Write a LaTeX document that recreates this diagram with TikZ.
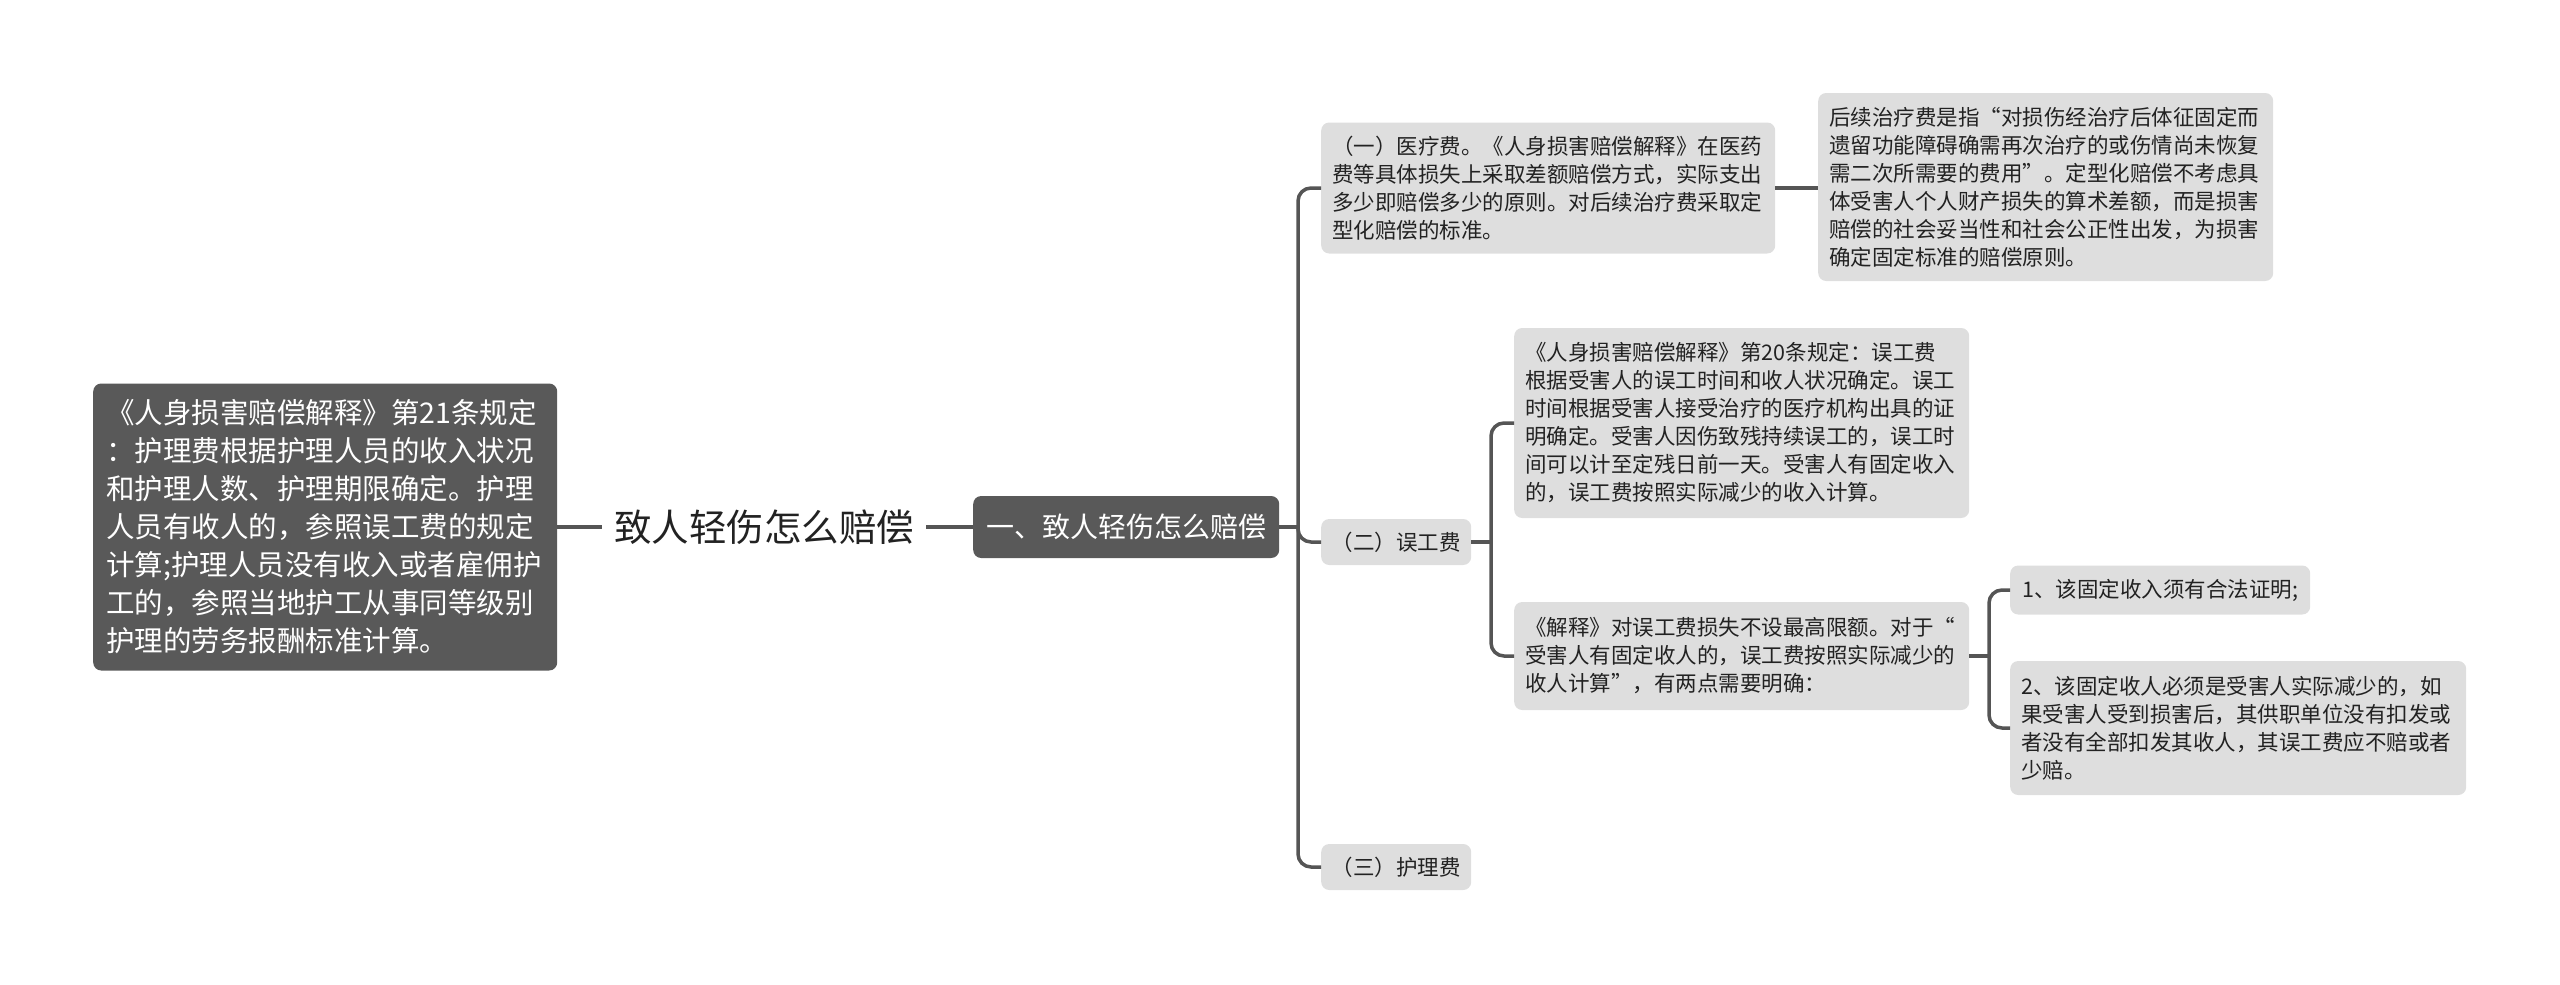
\documentclass[tikz,border=0pt]{standalone}
\usepackage{fontspec}
\newfontfamily\cjk{Noto Sans CJK SC}
\definecolor{dark}{RGB}{89,89,89}
\definecolor{lite}{RGB}{222,222,222}
\definecolor{ink}{RGB}{34,34,34}
\definecolor{wire}{RGB}{85,85,85}
\begin{document}
\begin{tikzpicture}[x=1pt,y=-1pt,
  darkbox/.style={fill=dark, text=white, rounded corners=8pt, inner ysep=0pt},
  litebox/.style={fill=lite, text=ink, rounded corners=8pt, anchor=west, align=left,
    inner xsep=11pt, inner ysep=0pt, font=\cjk\fontsize{21.5}{28}\selectfont},
  conn/.style={draw=wire, line width=3.5pt, rounded corners=13pt}
]
\useasboundingbox (0,0) rectangle (2560,985);

% left explanatory box
\node[darkbox, anchor=west, align=left, inner xsep=13pt, text width=438pt, minimum height=287pt,
  font=\cjk\fontsize{28.5}{38}\selectfont] (L) at (93,527)
{《人身损害赔偿解释》第21条规定\\
：护理费根据护理人员的收入状况\\
和护理人数、护理期限确定。护理\\
人员有收人的，参照误工费的规定\\
计算;护理人员没有收入或者雇佣护\\
工的，参照当地护工从事同等级别\\
护理的劳务报酬标准计算。};

% root
\node[text=ink, inner xsep=12pt, font=\cjk\fontsize{37.5}{44}\selectfont] (root) at (764,527) {致人轻伤怎么赔偿};

% first level
\node[darkbox, anchor=west, minimum width=306pt, minimum height=62pt, inner xsep=6pt,
  font=\cjk\fontsize{28}{34}\selectfont] (b1) at (973,527) {一、致人轻伤怎么赔偿};

% second level
\node[litebox, text width=432pt, minimum height=131pt] (g1) at (1321,188)
{（一）医疗费。《人身损害赔偿解释》在医药\\
费等具体损失上采取差额赔偿方式，实际支出\\
多少即赔偿多少的原则。对后续治疗费采取定\\
型化赔偿的标准。};

\node[litebox, align=center, minimum width=150pt, minimum height=46pt, inner xsep=4pt] (g2) at (1321,542) {（二）误工费};
\node[litebox, align=center, minimum width=150pt, minimum height=46pt, inner xsep=4pt] (g3) at (1321,867) {（三）护理费};

% third level
\node[litebox, text width=433pt, minimum height=188pt] (r1) at (1818,187)
{后续治疗费是指“对损伤经治疗后体征固定而\\
遗留功能障碍确需再次治疗的或伤情尚未恢复\\
需二次所需要的费用”。定型化赔偿不考虑具\\
体受害人个人财产损失的算术差额，而是损害\\
赔偿的社会妥当性和社会公正性出发，为损害\\
确定固定标准的赔偿原则。};

\node[litebox, text width=433pt, minimum height=190pt] (a1) at (1514,423)
{《人身损害赔偿解释》第20条规定：误工费\\
根据受害人的误工时间和收人状况确定。误工\\
时间根据受害人接受治疗的医疗机构出具的证\\
明确定。受害人因伤致残持续误工的，误工时\\
间可以计至定残日前一天。受害人有固定收入\\
的，误工费按照实际减少的收入计算。};

\node[litebox, text width=433pt, minimum height=108pt] (a2) at (1514,656)
{《解释》对误工费损失不设最高限额。对于“\\
受害人有固定收人的，误工费按照实际减少的\\
收人计算”，有两点需要明确：};

% fourth level
\node[litebox, align=center, minimum width=300pt, minimum height=49pt, inner xsep=6pt] (c1) at (2010,590)
{1、该固定收入须有合法证明;};

\node[litebox, text width=434pt, minimum height=134pt] (c2) at (2010,728)
{2、该固定收人必须是受害人实际减少的，如\\
果受害人受到损害后，其供职单位没有扣发或\\
者没有全部扣发其收人，其误工费应不赔或者\\
少赔。};

% connectors
\coordinate (t1) at (1298,527);
\coordinate (t2) at (1491,542);
\coordinate (t3) at (1989,656);

\draw[conn] (L.east) -- (root.west);
\draw[conn] (root.east) -- (b1.west);
\draw[conn] (b1.east) -- (t1);
\draw[conn] (t1) |- (g1.west);
\draw[conn] (t1) |- (g2.west);
\draw[conn] (t1) |- (g3.west);
\draw[conn] (g1.east) -- (r1.west |- g1.east);
\draw[conn] (g2.east) -- (t2);
\draw[conn] (t2) |- (a1.west);
\draw[conn] (t2) |- (a2.west);
\draw[conn] (a2.east) -- (t3);
\draw[conn] (t3) |- (c1.west);
\draw[conn] (t3) |- (c2.west);
\end{tikzpicture}
\end{document}
